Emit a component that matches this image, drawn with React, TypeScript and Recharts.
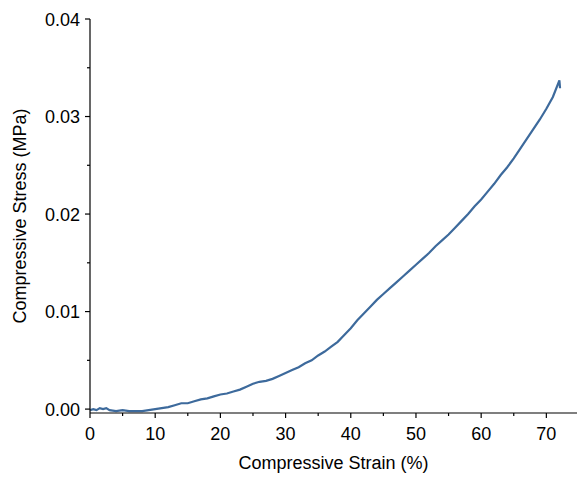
import React from "react";
import { LineChart, Line, XAxis, YAxis, Label } from "recharts";

// strain (%) and stress (MPa)
const strain = [
  0, 0.5, 1, 1.5, 2, 2.5, 3, 4, 5, 6, 7, 8, 9, 10, 11, 12, 13, 14, 15, 16, 17, 18, 19, 20,
  21, 22, 23, 24, 25, 26, 27, 28, 29, 30, 31, 32, 33, 34, 35, 36, 37, 38, 39, 40,
  41, 42, 43, 44, 45, 46, 47, 48, 49, 50, 51, 52, 53, 54, 55, 56, 57, 58, 59, 60,
  61, 62, 63, 64, 65, 66, 67, 68, 69, 70, 71, 72, 72.1,
];
const stress = [
  -0.0001, 0.0, -0.0001, 0.0001, 0.0, 0.0001, -0.0001, -0.0002, -0.0001, -0.0002, -0.0002, -0.0002, -0.0001, 0.0,
  0.0001, 0.0002, 0.0004, 0.0006, 0.0006, 0.0008, 0.001, 0.0011, 0.0013, 0.0015,
  0.0016, 0.0018, 0.002, 0.0023, 0.0026, 0.0028, 0.0029, 0.0031, 0.0034, 0.0037,
  0.004, 0.0043, 0.0047, 0.005, 0.0055, 0.0059, 0.0064, 0.0069, 0.0076, 0.0083,
  0.0091, 0.0098, 0.0105, 0.0112, 0.0118, 0.0124, 0.013, 0.0136, 0.0142, 0.0148,
  0.0154, 0.016, 0.0167, 0.0173, 0.0179, 0.0186, 0.0193, 0.02, 0.0208, 0.0215,
  0.0223, 0.0231, 0.024, 0.0248, 0.0257, 0.0267, 0.0277, 0.0287, 0.0297, 0.0308,
  0.032, 0.0337, 0.0329,
];

const xTicks = [0, 5, 10, 15, 20, 25, 30, 35, 40, 45, 50, 55, 60, 65, 70];
const yTicks = [0, 0.005, 0.01, 0.015, 0.02, 0.025, 0.03, 0.035, 0.04];

const data = strain.map((s, i) => ({ strain: s, stress: stress[i] }));

const font = "'Liberation Sans', Arial, sans-serif";

const XTick = ({ x, y, payload }: any) => {
  const major = payload.value % 10 === 0;
  return (
    <g>
      <line x1={x} y1={y} x2={x} y2={y + (major ? 5 : 3)} stroke="#000" strokeWidth={1.2} />
      {major && (
        <text x={x} y={y + 27} textAnchor="middle" fontSize={18} fontFamily={font} fill="#000">
          {payload.value}
        </text>
      )}
    </g>
  );
};

const YTick = ({ x, y, payload }: any) => {
  const major = Math.round(payload.value * 1000) % 10 === 0;
  return (
    <g>
      <line x1={x - (major ? 5 : 3)} y1={y} x2={x} y2={y} stroke="#000" strokeWidth={1.2} />
      {major && (
        <text x={x - 10} y={y + 6.5} textAnchor="end" fontSize={18} fontFamily={font} fill="#000">
          {payload.value.toFixed(2)}
        </text>
      )}
    </g>
  );
};

export default function App() {
  return (
    <div style={{ position: "absolute", left: 0, top: 0, background: "#fff" }}>
      <LineChart width={577} height={477} data={data} margin={{ top: 19, right: 0, left: 10, bottom: 0 }}>
        <XAxis
          dataKey="strain"
          type="number"
          domain={[0, 74.7]}
          ticks={xTicks}
          interval={0}
          allowDataOverflow
          height={64}
          tickSize={0}
          tickMargin={0}
          tickLine={false}
          tick={<XTick />}
          axisLine={{ stroke: "#000", strokeWidth: 1.2 }}
        >
          <Label
            value="Compressive Strain (%)"
            position="insideBottom"
            offset={8}
            style={{ fontSize: 18, fontFamily: font, fill: "#000" }}
          />
        </XAxis>
        <YAxis
          dataKey="stress"
          type="number"
          domain={[-0.0004, 0.04]}
          ticks={yTicks}
          interval={0}
          allowDataOverflow
          width={80}
          tickSize={0}
          tickMargin={0}
          tickLine={false}
          tick={<YTick />}
          axisLine={{ stroke: "#000", strokeWidth: 1.2 }}
        >
          <Label
            value="Compressive Stress (MPa)"
            position="insideLeft"
            angle={-90}
            offset={10}
            style={{ fontSize: 18, fontFamily: font, fill: "#000", textAnchor: "middle" }}
          />
        </YAxis>
        <Line
          type="linear"
          dataKey="stress"
          stroke="#3d6a9c"
          strokeWidth={2.2}
          dot={false}
          isAnimationActive={false}
        />
      </LineChart>
    </div>
  );
}
